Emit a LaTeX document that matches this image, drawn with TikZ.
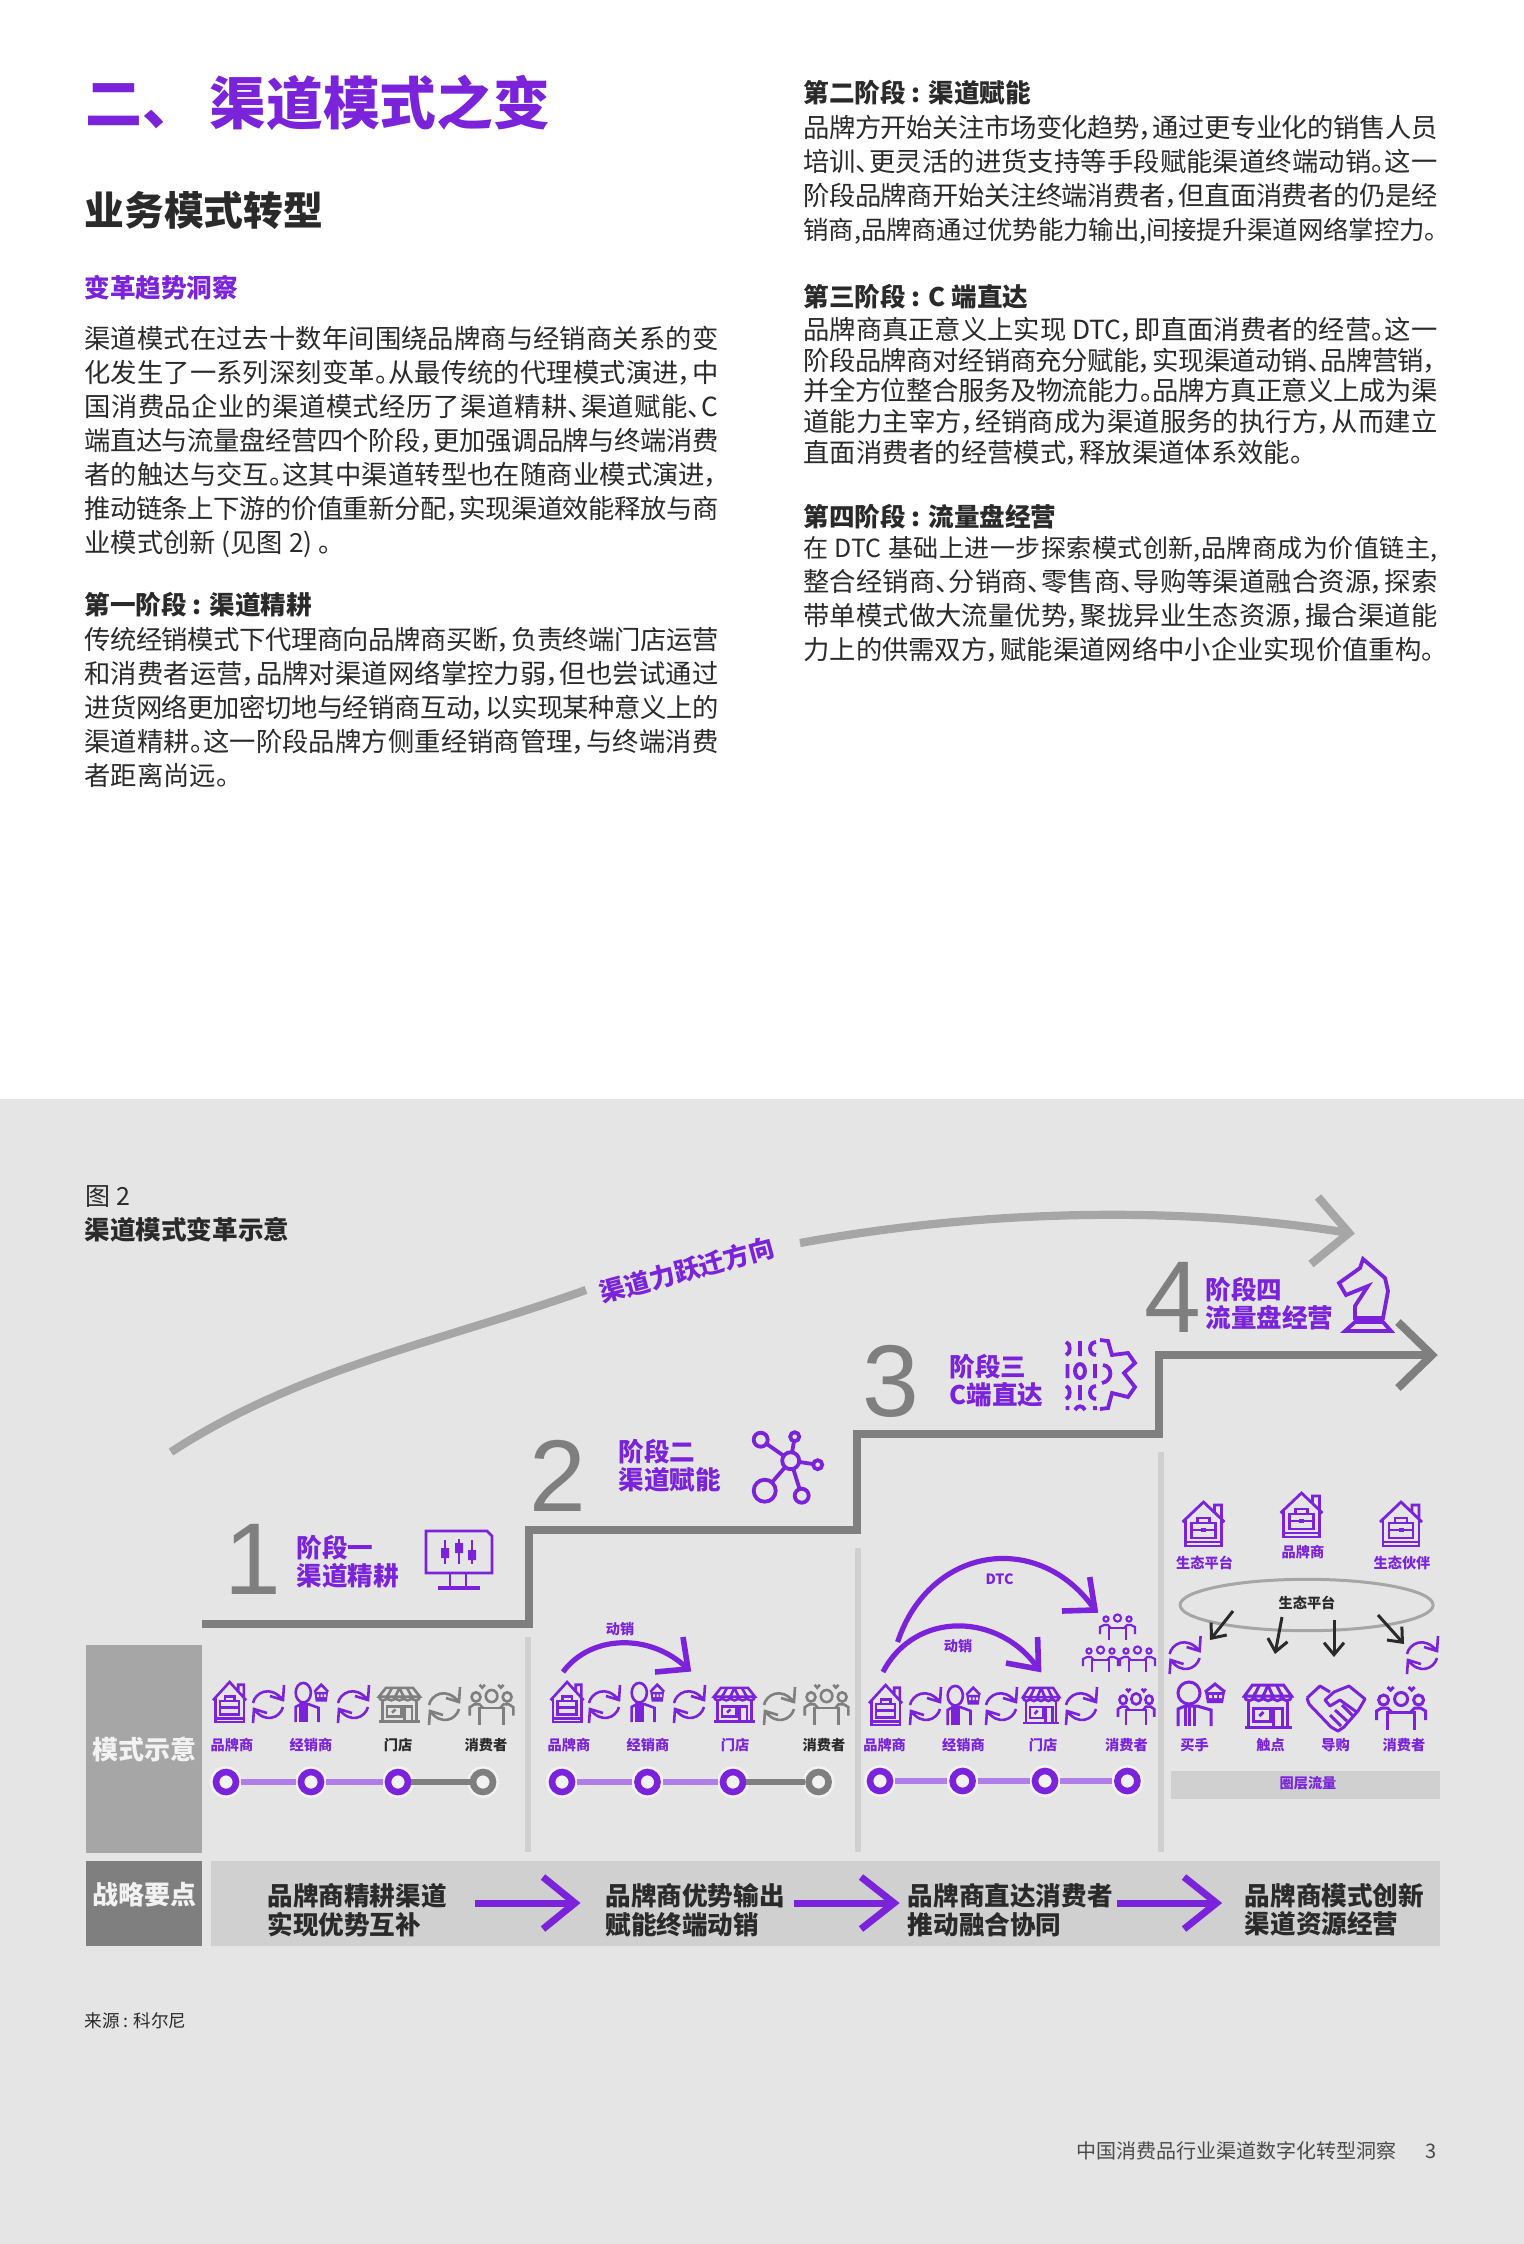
\documentclass[tikz,border=0pt]{standalone}
\usepackage{fontspec}
\setmainfont{Noto Sans CJK SC}[RawFeature=+palt]
\newfontfamily\numfont{Liberation Sans}
\usepackage{tikz}
\usetikzlibrary{calc,positioning,arrows.meta,shapes}
\XeTeXlinebreaklocale "zh"
\XeTeXlinebreakskip=0pt plus .8pt minus .25pt
\tolerance=9999
\newcommand{\lb}{\linebreak}
\definecolor{pur}{HTML}{7A23DB}
\definecolor{lpur}{HTML}{B07EE9}
\definecolor{gry}{HTML}{7F7F7F}
\definecolor{arcg}{HTML}{A6A6A6}
\definecolor{strip}{HTML}{D0D0D0}
\definecolor{pnl}{HTML}{E5E5E5}
\definecolor{hal}{HTML}{F2F2F2}
\definecolor{ink}{HTML}{2A2A2A}
\tikzset{
    para/.style={anchor=north west,inner sep=0,text width=317pt,align=justify,text=ink,font=\fontsize{13.15}{17}\selectfont},
    phead/.style={anchor=west,inner sep=0,text=ink,font=\fontsize{12.8}{15}\selectfont\bfseries},
    stnum/.style={inner sep=0,text=gry,font=\fontsize{51}{51}\selectfont\numfont},
    stlab/.style={anchor=west,inner sep=0,align=left,text=pur,font=\fontsize{12.8}{14}\selectfont\bfseries},
    sm/.style={inner sep=0,text=pur,font=\fontsize{7.1}{8}\selectfont\bfseries},
    smk/.style={sm,text=ink},
    strat/.style={anchor=west,inner sep=0,align=left,text=ink,font=\fontsize{12.8}{14.2}\selectfont\bfseries},
    sidet/.style={inner sep=0,text=hal,font=\fontsize{13}{14}\selectfont\bfseries},
    ringp/.style={circle,inner sep=0,minimum size=10pt,fill=hal,draw=#1,line width=3.3pt,preaction={draw=hal,line width=6pt}},
    ringp/.default=pur,
    barp/.style={lpur,line width=3pt,shorten <=1pt,shorten >=1pt},
    barg/.style={gry,line width=3pt},
    stair/.style={gry,line width=4pt,line join=miter},
    jump/.style={arcg,line width=4.1pt},
    parc/.style={pur,line width=2.6pt},
    headp/.style={pur,line width=3.5pt,line join=miter},
    blk/.style={ink,line width=1.5pt,-{Straight Barb[length=6pt,width=10pt]}},
    ip/.style={color=pur,line width=1.3pt},
    ig/.style={color=gry,line width=1.3pt},
    divl/.style={strip,line width=3pt},
    brs/.style={xscale=.79,yscale=.91},
    bus/.style={xscale=.69,yscale=.89},
    shs/.style={xscale=.87,yscale=.8},
    pes/.style={xscale=.89,yscale=.93},
    pics/brief/.style={code={
        \draw[pic actions] (0,20) -- (21,0) -- (42,20) (32,10) -- (32,3) -- (39,3) -- (39,17);
        \draw[pic actions] (3,18) -- (3,44) -- (39,44) -- (39,18) (3,40) -- (39,40);
        \draw[pic actions] (9,21) rectangle (33,36) (15,21) -- (15,16) -- (27,16) -- (27,21) (9,28) -- (33,28);
        \fill[pic actions] (18.5,26) rectangle (23.5,30);
    }},
    pics/cycle/.style={code={
        \draw[pic actions] (1,18) .. controls (3,8) and (18,-1) .. (31,15) (32,0) -- (31,15) -- (18,11);
        \draw[pic actions] (31,22) .. controls (28,33) and (13,39) .. (2,24) (1,38) -- (2,24) -- (15,28);
    }},
    pics/buyer/.style={code={
        \draw[pic actions] (12,12) circle (11);
        \draw[pic actions] (1,45) -- (1,28) -- (8,25) -- (20,25) -- (34,29) -- (34,45);
        \draw[pic actions] (8,25) -- (8,45) (17,25) -- (17,45) (12.5,26) -- (12.5,45);
        \draw[pic actions] (28,11) -- (38,3) -- (48,11);
        \fill[pic actions] (28,11) -- (48,11) -- (46,22) -- (30,22) -- cycle;
        \fill[pnl] (32,14) rectangle (35,17) (37,14) rectangle (40,17) (42,14) rectangle (45,17);
    }},
    pics/shop/.style={code={
        \draw[pic actions] (8,1) -- (39,1) -- (47,12) -- (0,12) -- cycle;
        \draw[pic actions] (15,1) -- (9.4,12) (23.5,1) -- (18.8,12) (23.5,1) -- (28.2,12) (32,1) -- (37.6,12);
        \draw[pic actions] (0,12) arc (180:0:4.7) arc (180:0:4.7) arc (180:0:4.7) arc (180:0:4.7) arc (180:0:4.7);
        \draw[pic actions] (4,18) -- (4,42) (43,18) -- (43,42) (0,43) -- (47,43);
        \draw[pic actions] (9,24) rectangle (26,37) (29,43) -- (29,24) -- (38,24) -- (38,43);
        \draw[pic actions] (15,32) -- (19,28);
    }},
    pics/people/.style={code={
        \draw[pic actions] (26.5,14) circle (6.5) (9,15) circle (5) (44,15) circle (5);
        \draw[pic actions] (13,2) -- (16,5) -- (19,2) (34,2) -- (37,5) -- (40,2);
        \draw[pic actions] (13,45) -- (13,27) -- (40,27) -- (40,45);
        \draw[pic actions] (2,35) -- (2,26) -- (7,23) -- (13,23) -- (17,27) (51,35) -- (51,26) -- (46,23) -- (40,23) -- (36,27);
    }},
    pics/team/.style={code={
        \draw[pic actions] (18.5,5) circle (3.6) (7,6) circle (2.6) (30,6) circle (2.6);
        \draw[pic actions] (10,27) -- (10,15) -- (27,15) -- (27,27);
        \draw[pic actions] (1,21) -- (1,14) -- (5,12) -- (9,12) -- (12,15) (36,21) -- (36,14) -- (32,12) -- (28,12) -- (25,15);
    }},
    pics/shake/.style={code={
        \draw[pic actions,line join=round] (1,14) -- (14,2) -- (24,8) (3,20) -- (1,14) (3,20) -- (25,43) -- (32,47) -- (38,43) -- (52,27) -- (59,15) -- (43,2) -- (28,8) -- (19,16) -- (24,22) -- (34,16) -- (52,29);
        \draw[pic actions] (29,26) -- (41,37) (24,31) -- (35,42) (36,21) -- (47,32);
    }},
    pics/knight/.style={code={
        \draw[pic actions,line join=miter] (25,1) -- (47,20) -- (50,33) -- (45,60) -- (17,60) -- (17,48) -- (30,28) -- (8,37) -- (1,25) -- (22,10) -- cycle;
        \draw[pic actions,line join=miter] (17,64) -- (45,64) -- (53,73) -- (7,73) -- cycle;
    }},
    pics/gearbit/.style={code={
        \draw[pic actions] (35,0) -- (43,1) -- (47,15) -- (63,13) -- (70,23) -- (59,33) -- (70,47) -- (63,57) -- (47,53) -- (43,68) -- (35,69);
        \draw[pic actions] (38,25) .. controls (48,26) and (48,41) .. (37,43);
        \draw[pic actions] (1,2) .. controls (6,3) and (6,14) .. (1,15) (15,1) -- (15,16) (31,2) .. controls (23,2) and (23,15) .. (31,15);
        \draw[pic actions] (2.5,24) -- (2.5,38) (15,31) ellipse (5 and 7) (30,24) -- (30,38);
        \draw[pic actions] (1,46) .. controls (6,47) and (6,58) .. (1,59) (15,45) -- (15,60) (31,46) .. controls (23,46) and (23,59) .. (31,59);
        \draw[pic actions] (2.5,66) -- (2.5,70) (10,70) .. controls (12,65) and (18,65) .. (20,70) (30,66) -- (30,70);
    }},
    pics/panel/.style={code={
        \draw[pic actions,line join=miter] (1,1) -- (62,1) -- (67,6) -- (67,43) -- (1,43) -- cycle;
        \draw[pic actions] (25,43) -- (25,57) (41,43) -- (41,57);
        \draw[pic actions,line width=1.8pt] (13,58) -- (55,58);
        \draw[pic actions] (20,10) -- (20,34) (34,9) -- (34,34) (47,10) -- (47,34);
        \fill[pic actions] (16,18) rectangle (24,28) (30,13) rectangle (38,23) (43,20) rectangle (51,30);
    }},
    pics/hubnet/.style={code={
        \draw[pic actions] (0,0) -- (-30,-21) (0,0) -- (4,-24) (0,0) -- (27,4) (0,0) -- (-26,30) (0,0) -- (11,35);
        \draw[pic actions,fill=pnl] (0,0) circle (8.5) (-30,-21) circle (7) (4,-24) circle (4.5) (27,4) circle (4.5) (-26,30) circle (11) (11,35) circle (7);
    }},
}
\begin{document}
\begin{tikzpicture}[x=.5pt,y=-.5pt]
    \useasboundingbox (0,0) rectangle (1523,2244);
    \fill[white] (0,0) rectangle (1530,1099);
    \fill[pnl] (0,1099) rectangle (1530,2250);

    \node[anchor=west,inner sep=0,text=pur,font=\fontsize{28.4}{30}\selectfont\bfseries] (title) at (85,103) {二、\hspace{19.5pt}渠道模式之变};
    \node[anchor=west,inner sep=0,text=ink,font=\fontsize{19.9}{22}\selectfont\bfseries] (sub) at (84,210) {业务模式转型};
    \node[anchor=west,inner sep=0,text=pur,font=\fontsize{12.8}{15}\selectfont\bfseries] (trend) at (84,288) {变革趋势洞察};

    \node[para] (p0) at (84,326) {渠道模式在过去十数年间围绕品牌商与经销商关系的变\lb
化发生了一系列深刻变革。从最传统的代理模式演进，中\lb
国消费品企业的渠道模式经历了渠道精耕、渠道赋能、C\lb
端直达与流量盘经营四个阶段，更加强调品牌与终端消费\lb
者的触达与交互。这其中渠道转型也在随商业模式演进，\lb
推动链条上下游的价值重新分配，实现渠道效能释放与商\lb
业模式创新 (见图 2) 。};
    \node[phead] (h1) at (84,605) {第一阶段 : 渠道精耕};
    \node[para] (p1) at (84,627) {传统经销模式下代理商向品牌商买断，负责终端门店运营\lb
和消费者运营，品牌对渠道网络掌控力弱，但也尝试通过\lb
进货网络更加密切地与经销商互动，以实现某种意义上的\lb
渠道精耕。这一阶段品牌方侧重经销商管理，与终端消费\lb
者距离尚远。};
    \node[phead] (h2) at (803,93) {第二阶段 : 渠道赋能};
    \node[para] (p2) at (803,115) {品牌方开始关注市场变化趋势，通过更专业化的销售人员\lb
培训、更灵活的进货支持等手段赋能渠道终端动销。这一\lb
阶段品牌商开始关注终端消费者，但直面消费者的仍是经\lb
{\fontsize{12.7}{17}\selectfont 销商,品牌商通过优势能力输出,间接提升渠道网络掌控力。}};
    \node[phead] (h3) at (803,297) {第三阶段 : C 端直达};
    \node[para,font=\fontsize{13.15}{15.3}\selectfont] (p3) at (803,317) {品牌商真正意义上实现 DTC，即直面消费者的经营。这一\lb
阶段品牌商对经销商充分赋能，实现渠道动销、品牌营销，\lb
并全方位整合服务及物流能力。品牌方真正意义上成为渠\lb
道能力主宰方，经销商成为渠道服务的执行方，从而建立\lb
直面消费者的经营模式，释放渠道体系效能。};
    \node[phead] (h4) at (803,517) {第四阶段 : 流量盘经营};
    \node[para] (p4) at (803,536) {{\fontsize{12.5}{17}\selectfont 在 DTC 基础上进一步探索模式创新,品牌商成为价值链主,}\lb
整合经销商、分销商、零售商、导购等渠道融合资源，探索\lb
带单模式做大流量优势，聚拢异业生态资源，撮合渠道能\lb
力上的供需双方，赋能渠道网络中小企业实现价值重构。};

    \node[anchor=west,inner sep=0,text=ink,font=\fontsize{12.5}{15}\selectfont] (figno) at (85,1197) {图 2};
    \node[anchor=west,inner sep=0,text=ink,font=\fontsize{12.8}{15}\selectfont\bfseries] (figt) at (84,1230) {渠道模式变革示意};

    \coordinate (j0) at (171,1452);
    \coordinate (j1) at (586,1290);
    \coordinate (j2) at (800,1243);
    \coordinate (j3) at (1349,1233);
    \coordinate (j4) at (1318,1197);
    \coordinate (j5) at (1311,1264);
    \draw[jump] (j0) .. controls (300,1368) and (440,1342) .. (j1);
    \draw[jump] (j2) .. controls (980,1210) and (1180,1205) .. (j3);
    \draw[jump,line join=miter] (j4) -- (j3) -- (j5);
    \node[inner sep=0,rotate=15,text=pur,font=\fontsize{12.8}{15}\selectfont\bfseries] (jt) at (687,1270) {渠道力跃迁方向};

    \coordinate (s0) at (202,1624);
    \coordinate (s1) at (529,1530);
    \coordinate (s2) at (857,1434);
    \coordinate (s3) at (1159,1355);
    \coordinate (s4) at (1432,1355);
    \coordinate (s5) at (1398,1322);
    \coordinate (s6) at (1398,1388);
    \draw[stair] (s0) -| (s1) -| (s2) -| (s3) -- (s4);
    \draw[stair] (s5) -- (s4) -- (s6);

    \node[stnum] (n1) at (253,1559) {1};
    \node[stnum] (n2) at (558,1476) {2};
    \node[stnum] (n3) at (891,1381) {3};
    \node[stnum] (n4) at (1173,1297) {4};

    \node[stlab] (l1) at (296,1562) {阶段一\\渠道精耕};
    \node[stlab] (l2) at (618,1466) {阶段二\\渠道赋能};
    \node[stlab] (l3) at (949,1381) {阶段三\\C端直达};
    \node[stlab] (l4) at (1205,1304) {阶段四\\流量盘经营};

    \pic[ip,line width=1.35pt] at (425,1530) {panel};
    \pic[ip,line width=1.9pt] at (790.7,1460.7) {hubnet};
    \pic[ip,line width=1.9pt] at (1065,1340) {gearbit};
    \pic[ip,line width=1.9pt] at (1338,1258) {knight};

    \draw[divl] (528,1637) -- (528,1852);
    \draw[divl] (858,1548) -- (858,1852);
    \draw[divl] (1161,1452) -- (1161,1852);

    \node[inner sep=0,fill=arcg,minimum width=58pt,minimum height=104pt,sidet] (side1) at (144,1749) {模式示意};
    \node[inner sep=0,fill=gry,minimum width=58pt,minimum height=42.6pt] (side2) at (144,1903.5) {};
    \node[sidet] (side2t) at (144,1895) {战略要点};
    \node[inner sep=0,fill=strip,minimum width=614.3pt,minimum height=42.6pt] (band) at (825.3,1903.5) {};

    \pic[ip,brs] at (213,1682) {brief};
    \pic[ip] at (252,1685) {cycle};
    \pic[ip,bus] at (295,1682) {buyer};
    \pic[ip] at (337,1685) {cycle};
    \pic[ig,shs] at (379,1687) {shop};
    \pic[ig] at (428,1687) {cycle};
    \pic[ig,pes] at (468,1683) {people};
    \node[sm] (a1) at (232,1745) {品牌商};
    \node[sm] (a2) at (311,1745) {经销商};
    \node[smk] (a3) at (398,1745) {门店};
    \node[smk] (a4) at (486,1745) {消费者};
    \node[ringp] (ca1) at (226,1782) {};
    \node[ringp] (ca2) at (311,1782) {};
    \node[ringp] (ca3) at (398,1782) {};
    \node[ringp=gry] (ca4) at (483,1782) {};
    \draw[barp] (ca1) -- (ca2);
    \draw[barp] (ca2) -- (ca3);
    \draw[barg] (ca3) -- (ca4);

    \pic[ip,brs] at (550.5,1682) {brief};
    \pic[ip] at (588,1685) {cycle};
    \pic[ip,bus] at (631,1682) {buyer};
    \pic[ip] at (673,1685) {cycle};
    \pic[ip,shs] at (714,1687) {shop};
    \pic[ig] at (763,1687) {cycle};
    \pic[ig,pes] at (803,1683) {people};
    \node[sm] (b1) at (569,1745) {品牌商};
    \node[sm] (b2) at (648,1745) {经销商};
    \node[sm] (b3) at (735,1745) {门店};
    \node[smk] (b4) at (824,1745) {消费者};
    \node[ringp] (cb1) at (562,1782) {};
    \node[ringp] (cb2) at (647.5,1782) {};
    \node[ringp] (cb3) at (733,1782) {};
    \node[ringp=gry] (cb4) at (818.6,1782) {};
    \draw[barp] (cb1) -- (cb2);
    \draw[barp] (cb2) -- (cb3);
    \draw[barg] (cb3) -- (cb4);
    \coordinate (d0) at (563,1672);
    \coordinate (d1) at (688,1669);
    \coordinate (d2) at (683,1637);
    \coordinate (d3) at (655,1672);
    \draw[parc] (d0) .. controls (590,1635) and (650,1632) .. (d1);
    \draw[headp,line width=2.8pt] (d2) -- (d1) -- (d3);
    \node[sm] (dt) at (620,1629) {动销};

    \pic[ip,brs] at (869,1685) {brief};
    \pic[ip] at (909,1687) {cycle};
    \pic[ip,bus] at (947,1685) {buyer};
    \pic[ip] at (985,1687) {cycle};
    \pic[ip,xscale=.77,yscale=.84] at (1023,1687) {shop};
    \pic[ip] at (1065,1687) {cycle};
    \pic[ip,xscale=.74,yscale=.85] at (1116.5,1687) {people};
    \pic[ip,line width=1.05pt] at (1099,1613) {team};
    \pic[ip,line width=1.05pt] at (1082,1645) {team};
    \pic[ip,line width=1.05pt] at (1119,1645) {team};
    \node[sm] (c1) at (884.6,1745) {品牌商};
    \node[sm] (c2) at (963.5,1745) {经销商};
    \node[sm] (c3) at (1043,1745) {门店};
    \node[sm] (c4) at (1126.5,1745) {消费者};
    \node[ringp] (cc1) at (880,1781) {};
    \node[ringp] (cc2) at (962.6,1781) {};
    \node[ringp] (cc3) at (1045,1781) {};
    \node[ringp] (cc4) at (1127.4,1781) {};
    \draw[barp] (cc1) -- (cc2);
    \draw[barp] (cc2) -- (cc3);
    \draw[barp] (cc3) -- (cc4);
    \coordinate (e0) at (897.6,1642);
    \coordinate (e1) at (1095,1610);
    \coordinate (e2) at (1089.7,1577);
    \coordinate (e3) at (1062,1611);
    \draw[parc] (e0) .. controls (930,1545) and (1040,1530) .. (e1);
    \draw[headp,line width=2.8pt] (e2) -- (e1) -- (e3);
    \node[sm] (et) at (999.5,1579) {DTC};
    \coordinate (f0) at (883,1672);
    \coordinate (f1) at (1038.5,1669);
    \coordinate (f2) at (1037.6,1637);
    \coordinate (f3) at (1006,1663);
    \draw[parc] (f0) .. controls (915,1610) and (1000,1612) .. (f1);
    \draw[headp,line width=2.8pt] (f2) -- (f1) -- (f3);
    \node[sm] (ft) at (958,1646) {动销};

    \pic[ip,line width=1.4pt] at (1182.5,1502) {brief};
    \pic[ip,line width=1.4pt] at (1280.5,1493) {brief};
    \pic[ip,line width=1.4pt] at (1380,1502) {brief};
    \node[sm] (g1) at (1204.6,1563) {生态平台};
    \node[sm] (g2) at (1303,1552) {品牌商};
    \node[sm] (g3) at (1402,1563) {生态伙伴};
    \node[ellipse,inner sep=0,draw=arcg,line width=1.5pt,minimum width=126.5pt,minimum height=25.7pt] (eco) at (1306.6,1605) {};
    \node[smk] (ecot) at (1307,1603) {生态平台};
    \coordinate (k1) at (1233,1611);
    \coordinate (k2) at (1210,1640);
    \coordinate (k3) at (1282,1617);
    \coordinate (k4) at (1275,1654);
    \coordinate (k5) at (1334,1620);
    \coordinate (k6) at (1334,1657);
    \coordinate (k7) at (1378,1615);
    \coordinate (k8) at (1404,1644);
    \draw[blk] (k1) -- (k2);
    \draw[blk] (k3) -- (k4);
    \draw[blk] (k5) -- (k6);
    \draw[blk] (k7) -- (k8);
    \pic[ip] at (1168.6,1636) {cycle};
    \pic[ip] at (1406,1636) {cycle};
    \pic[ip,line width=1.5pt] at (1177,1681) {buyer};
    \pic[ip,line width=1.5pt] at (1244.5,1684) {shop};
    \pic[ip,line width=1.5pt] at (1306,1684) {shake};
    \pic[ip,line width=1.5pt] at (1374.6,1685) {people};
    \node[sm] (m1) at (1194.6,1745) {买手};
    \node[sm] (m2) at (1270.5,1745) {触点};
    \node[sm] (m3) at (1335.6,1745) {导购};
    \node[sm] (m4) at (1404,1745) {消费者};
    \node[inner sep=0,fill=strip,minimum width=134.4pt,minimum height=13.9pt] (crowd) at (1305.2,1785) {};
    \node[sm] (crowdt) at (1308,1783) {圈层流量};

    \node[strat] (t1) at (267,1910) {品牌商精耕渠道\\实现优势互补};
    \node[strat] (t2) at (605,1910) {品牌商优势输出\\赋能终端动销};
    \node[strat] (t3) at (907.5,1910) {品牌商直达消费者\\推动融合协同};
    \node[strat] (t4) at (1244.5,1910) {品牌商模式创新\\渠道资源经营};
    \coordinate (w1) at (475,1903);
    \coordinate (w2) at (575,1903);
    \coordinate (w3) at (794,1903);
    \coordinate (w4) at (894,1903);
    \coordinate (w5) at (1116.6,1903);
    \coordinate (w6) at (1216.5,1903);
    \coordinate (v1) at (543,1877);
    \coordinate (v2) at (543,1929);
    \coordinate (v3) at (861,1877);
    \coordinate (v4) at (861,1929);
    \coordinate (v5) at (1184,1877);
    \coordinate (v6) at (1184,1929);
    \draw[headp] (w1) -- (w2);
    \draw[headp] (v1) -- (w2) -- (v2);
    \draw[headp] (w3) -- (w4);
    \draw[headp] (v3) -- (w4) -- (v4);
    \draw[headp] (w5) -- (w6);
    \draw[headp] (v5) -- (w6) -- (v6);

    \node[anchor=west,inner sep=0,text=ink,font=\fontsize{8.8}{10}\selectfont] (src) at (84,2021) {来源 : 科尔尼};
    \node[anchor=west,inner sep=0,text=ink!85,font=\fontsize{10}{12}\selectfont] (foot) at (1076,2151) {中国消费品行业渠道数字化转型洞察};
    \node[inner sep=0,text=ink!85,font=\fontsize{10}{12}\selectfont] (pg) at (1431,2151) {3};
\end{tikzpicture}
\end{document}
